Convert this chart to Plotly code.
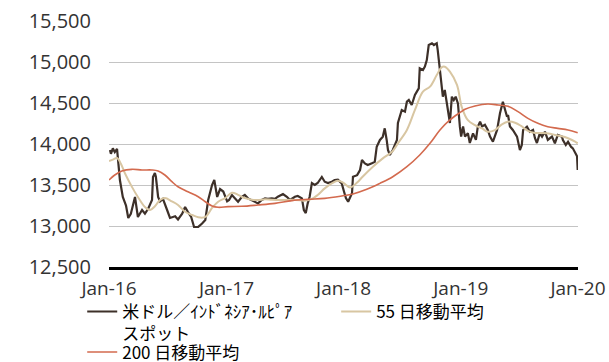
import plotly.graph_objects as go

spot_dates = [
    "2016-01-04", "2016-01-07", "2016-01-13", "2016-01-19", "2016-01-26", "2016-02-04", "2016-02-13", "2016-02-23",
    "2016-03-01", "2016-03-09", "2016-03-22", "2016-03-31", "2016-04-13", "2016-04-22", "2016-05-02", "2016-05-14",
    "2016-05-17", "2016-05-23", "2016-05-26", "2016-06-02", "2016-06-08", "2016-06-17", "2016-06-30", "2016-07-09",
    "2016-07-25", "2016-08-03", "2016-08-16", "2016-08-25", "2016-09-03", "2016-09-13", "2016-09-22", "2016-10-05",
    "2016-10-17", "2016-10-27", "2016-11-05", "2016-11-17", "2016-11-24", "2016-12-03", "2016-12-12", "2016-12-22",
    "2017-01-03", "2017-01-09", "2017-01-18", "2017-01-28", "2017-02-06", "2017-02-18", "2017-02-27", "2017-03-09",
    "2017-03-21", "2017-03-30", "2017-04-09", "2017-04-21", "2017-05-01", "2017-05-10", "2017-05-22", "2017-06-01",
    "2017-06-10", "2017-06-26", "2017-07-08", "2017-07-18", "2017-08-02", "2017-08-11", "2017-08-24", "2017-08-30",
    "2017-09-05", "2017-09-11", "2017-09-17", "2017-09-24", "2017-10-03", "2017-10-12", "2017-10-25", "2017-11-03",
    "2017-11-13", "2017-11-25", "2017-12-04", "2017-12-14", "2017-12-26", "2018-01-02", "2018-01-08", "2018-01-15",
    "2018-01-27", "2018-01-30", "2018-02-12", "2018-02-21", "2018-02-27", "2018-03-08", "2018-03-17", "2018-03-30",
    "2018-04-08", "2018-04-14", "2018-04-24", "2018-05-03", "2018-05-09", "2018-05-15", "2018-05-19", "2018-05-25",
    "2018-06-03", "2018-06-16", "2018-06-19", "2018-07-01", "2018-07-11", "2018-07-17", "2018-07-23", "2018-08-01",
    "2018-08-11", "2018-08-17", "2018-08-23", "2018-08-26", "2018-09-05", "2018-09-11", "2018-09-17", "2018-09-23",
    "2018-10-03", "2018-10-09", "2018-10-18", "2018-10-21", "2018-10-28", "2018-10-31", "2018-11-06", "2018-11-12",
    "2018-11-18", "2018-11-22", "2018-11-28", "2018-12-04", "2018-12-10", "2018-12-16", "2018-12-23", "2018-12-29",
    "2019-01-02", "2019-01-08", "2019-01-14", "2019-01-23", "2019-01-29", "2019-02-08", "2019-02-17", "2019-02-23",
    "2019-03-02", "2019-03-08", "2019-03-17", "2019-03-26", "2019-04-02", "2019-04-11", "2019-04-24", "2019-05-03",
    "2019-05-12", "2019-05-19", "2019-05-25", "2019-05-28", "2019-06-03", "2019-06-12", "2019-06-25", "2019-07-04",
    "2019-07-10", "2019-07-14", "2019-07-26", "2019-08-04", "2019-08-14", "2019-08-20", "2019-08-26", "2019-09-04",
    "2019-09-11", "2019-09-20", "2019-09-29", "2019-10-12", "2019-10-21", "2019-10-30", "2019-11-12", "2019-11-15",
    "2019-11-24", "2019-12-01", "2019-12-10", "2019-12-16", "2019-12-23", "2019-12-29", "2019-12-31",
]
spot_values = [
    13927, 13880, 13947, 13900, 13940, 13561, 13354, 13250,
    13098, 13150, 13354, 13110, 13195, 13150, 13210, 13317,
    13597, 13646, 13600, 13354, 13300, 13330, 13195, 13098,
    13120, 13080, 13150, 13232, 13170, 13110, 12988, 12990,
    13030, 13073, 13317, 13500, 13561, 13354, 13450, 13420,
    13300, 13317, 13378, 13337, 13296, 13357, 13378, 13337,
    13317, 13296, 13276, 13317, 13337, 13330, 13337, 13330,
    13357, 13390, 13357, 13317, 13357, 13366, 13337, 13195,
    13158, 13276, 13357, 13524, 13500, 13524, 13598, 13540,
    13524, 13540, 13560, 13565, 13520, 13420, 13341, 13296,
    13400, 13601, 13620, 13682, 13805, 13764, 13744, 13764,
    13784, 13967, 14049, 14090, 14191, 14049, 13927, 13866,
    13927, 14049, 14256, 14415, 14395, 14516, 14537, 14476,
    14598, 14638, 14679, 14923, 14903, 14943, 15024, 15207,
    15228, 15207, 15228, 15146, 14923, 14800, 14577, 14658,
    14516, 14415, 14256, 14577, 14537, 14577, 14495, 14211,
    14090, 14214, 14090, 14130, 14012, 14130, 14050, 14214,
    14272, 14214, 14235, 14171, 14090, 14028, 14171, 14374,
    14516, 14415, 14334, 14354, 14214, 14171, 14090, 13927,
    13988, 14171, 14211, 14150, 14171, 14070, 14012, 14130,
    14090, 14150, 14049, 14090, 14008, 14110, 14090, 14049,
    13988, 14028, 13967, 13947, 13887, 13850, 13683,
]

ma55_dates = [
    "2016-01-01", "2016-01-13", "2016-01-26", "2016-02-07", "2016-02-20", "2016-03-12", "2016-03-31", "2016-04-22",
    "2016-05-08", "2016-05-23", "2016-06-08", "2016-06-23", "2016-07-15", "2016-08-03", "2016-08-25", "2016-09-16",
    "2016-10-05", "2016-10-27", "2016-11-17", "2016-12-06", "2016-12-28", "2017-01-18", "2017-02-06", "2017-02-27",
    "2017-03-21", "2017-04-09", "2017-05-01", "2017-05-22", "2017-06-16", "2017-07-24", "2017-08-18", "2017-09-02",
    "2017-09-24", "2017-10-12", "2017-11-03", "2017-11-25", "2017-12-14", "2017-12-30", "2018-01-21", "2018-02-12",
    "2018-03-01", "2018-04-02", "2018-05-03", "2018-06-01", "2018-06-19", "2018-07-17", "2018-08-11", "2018-09-05",
    "2018-09-27", "2018-10-18", "2018-11-02", "2018-11-12", "2018-11-28", "2018-12-20", "2019-01-04", "2019-01-23",
    "2019-02-14", "2019-03-08", "2019-03-26", "2019-04-17", "2019-05-09", "2019-05-28", "2019-06-19", "2019-07-08",
    "2019-07-29", "2019-08-20", "2019-09-11", "2019-10-06", "2019-10-21", "2019-11-12", "2019-12-01", "2019-12-23",
    "2019-12-31",
]
ma55_values = [
    13793, 13810, 13829, 13760, 13640, 13480, 13354, 13232,
    13195, 13240, 13317, 13341, 13300, 13256, 13174, 13134,
    13106, 13110, 13220, 13296, 13341, 13406, 13380, 13341,
    13320, 13317, 13325, 13320, 13317, 13320, 13315, 13309,
    13330, 13378, 13459, 13520, 13552, 13530, 13470, 13530,
    13601, 13723, 13825, 13906, 14008, 14171, 14415, 14638,
    14699, 14841, 14935, 14943, 14882, 14720, 14450, 14290,
    14230, 14190, 14150, 14170, 14240, 14272, 14260, 14220,
    14160, 14135, 14135, 14125, 14110, 14095, 14070, 14030,
    14008,
]

ma200_dates = [
    "2016-01-01", "2016-01-19", "2016-02-10", "2016-03-12", "2016-04-13", "2016-05-14", "2016-06-02", "2016-06-23",
    "2016-07-15", "2016-08-03", "2016-09-03", "2016-10-05", "2016-10-27", "2016-11-17", "2016-12-06", "2017-01-06",
    "2017-02-18", "2017-04-09", "2017-06-01", "2017-07-24", "2017-09-11", "2017-11-03", "2017-12-26", "2018-01-30",
    "2018-03-14", "2018-04-24", "2018-06-03", "2018-07-17", "2018-08-26", "2018-09-27", "2018-10-28", "2018-11-28",
    "2018-12-29", "2019-01-14", "2019-02-14", "2019-03-26", "2019-04-27", "2019-05-28", "2019-06-28", "2019-07-29",
    "2019-08-29", "2019-09-29", "2019-10-30", "2019-12-01", "2019-12-31",
]
ma200_values = [
    13561, 13622, 13671, 13691, 13683, 13683, 13671, 13622,
    13540, 13479, 13418, 13357, 13296, 13244, 13228, 13236,
    13240, 13256, 13276, 13309, 13325, 13337, 13366, 13390,
    13447, 13520, 13601, 13723, 13866, 14008, 14171, 14293,
    14382, 14423, 14463, 14488, 14476, 14460, 14394, 14313,
    14252, 14211, 14191, 14171, 14138,
]

series_names = ["米ドル／ｲﾝﾄﾞﾈｼｱ･ﾙﾋﾟｱ<br>スポット", "55 日移動平均", "200 日移動平均"]

TXT = "#333333"
JP_FONT = "Noto Sans CJK JP"
LAT_FONT = "Open Sans"
LEG_SIZE = 17

fig = go.Figure()
fig.add_trace(go.Scatter(x=spot_dates, y=spot_values, mode="lines", name=series_names[0],
                         line=dict(color="#3d3029", width=2.2), legend="legend"))
fig.add_trace(go.Scatter(x=ma55_dates, y=ma55_values, mode="lines", name=series_names[1],
                         line=dict(color="#d8c6a2", width=2, shape="spline"), legend="legend3"))
fig.add_trace(go.Scatter(x=ma200_dates, y=ma200_values, mode="lines", name=series_names[2],
                         line=dict(color="#d36a4e", width=1.6, shape="spline"), legend="legend2"))

leg_common = dict(orientation="h", xref="container", yref="container", xanchor="left", yanchor="top",
                  itemwidth=30, valign="top", bgcolor="rgba(0,0,0,0)",
                  font=dict(family=JP_FONT, size=LEG_SIZE, color="#000000"))

fig.update_layout(
    width=609, height=362,
    margin=dict(l=109, r=31, t=21, b=95, autoexpand=False),
    paper_bgcolor="white", plot_bgcolor="white",
    font=dict(family=LAT_FONT, size=18, color=TXT),
    showlegend=True,
    legend=dict(x=0.135, y=0.188, **leg_common),
    legend3=dict(x=0.552, y=0.188, **leg_common),
    legend2=dict(x=0.135, y=0.076, **leg_common),
)
fig.update_xaxes(
    type="date", range=["2016-01-01", "2020-01-01"],
    tick0="2016-01-01", dtick="M12", tickformat="%b-%y",
    showgrid=False, showline=True, linecolor="#000000", linewidth=2.5,
    ticks="", ticklabelstandoff=2, zeroline=False,
    tickfont=dict(family=LAT_FONT, size=19, color=TXT),
)
fig.update_yaxes(
    range=[12500, 15500], dtick=500, tick0=12500, tickformat=",",
    showgrid=True, gridcolor="#c4c4c4", gridwidth=1, zeroline=False,
    showline=False, ticks="", ticklabelstandoff=17,
    tickfont=dict(family=LAT_FONT, size=20, color=TXT),
)

fig.write_html("out.html")
